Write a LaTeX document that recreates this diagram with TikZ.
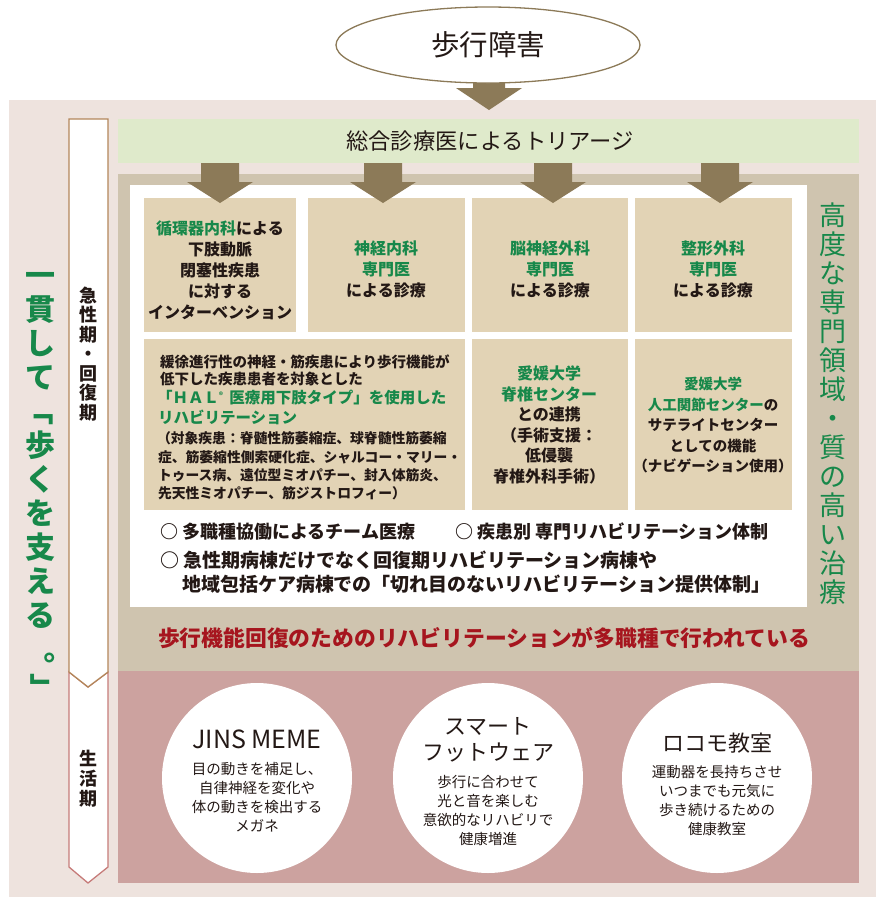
\documentclass[tikz,border=0pt]{standalone}
\usepackage{graphicx}
\usepackage{fontspec}
\setmainfont{Noto Sans CJK JP}
\usetikzlibrary{shapes.geometric}
\definecolor{outerbg}{HTML}{EEE3DE}
\definecolor{bandc}{HTML}{DFEACB}
\definecolor{tanc}{HTML}{CFC4AF}
\definecolor{boxc}{HTML}{E2D3B5}
\definecolor{pinkc}{HTML}{CCA29F}
\definecolor{arrowc}{HTML}{8C7A58}
\definecolor{grn}{HTML}{17884A}
\definecolor{redt}{HTML}{A6151E}
\definecolor{txt}{HTML}{231815}
\definecolor{stripa}{HTML}{B3865A}
\definecolor{stripb}{HTML}{C67B79}
\newcommand\barrow[6]{\fill[arrowc] (#1-#5,#2) -- (#1+#5,#2) -- (#1+#5,#3) -- (#1+#6,#3) -- (#1,#4) -- (#1-#6,#3) -- (#1-#5,#3) -- cycle;}
\newcommand\vrot[1]{\rotatebox[origin=c]{-90}{#1}}
\tikzset{
  boxtxt/.style={font=\bfseries\fontsize{16}{21}\selectfont, align=center},
  boxtxtsm/.style={font=\bfseries\fontsize{14.5}{20.5}\selectfont, align=center},
  haltxt/.style={font=\bfseries\fontsize{14.5}{14.5}\selectfont, anchor=west},
  halsm/.style={font=\bfseries\fontsize{13.8}{13.8}\selectfont, anchor=west},
  halgrn/.style={font=\bfseries\fontsize{15.5}{15.5}\selectfont, anchor=west, text=grn},
  bullettxt/.style={font=\bfseries\fontsize{18}{18}\selectfont, anchor=west},
  bulletbig/.style={font=\bfseries\fontsize{19}{19}\selectfont, anchor=west},
  circtitle/.style={font=\fontsize{22}{26}\selectfont, align=center},
  circbody/.style={font=\fontsize{14.5}{19}\selectfont, align=center},
  circle3/.style={fill=white, circle, minimum size=190},
}
\begin{document}
\begin{tikzpicture}[x=1pt,y=-1pt, every node/.style={inner sep=0pt, outer sep=0pt, text=txt}]
\useasboundingbox (0,0) rectangle (876,898);
\fill[outerbg] (9,100) rectangle (876,897);
% main arrow
\barrow{489}{75}{88}{110}{16}{33}
\node[draw=arrowc, line width=1.3pt, fill=white, ellipse, minimum width=304, minimum height=76] (top) at (488,45) {};
\node[font=\fontsize{28.5}{28.5}\selectfont] (toptxt) at (top.center) {歩行障害};
% band
\fill[bandc] (118,119) rectangle (859,163);
\node[font=\fontsize{22.3}{22.3}\selectfont] (band) at (490,141) {総合診療医によるトリアージ};
% tan area and pink area
\fill[tanc] (118,174) rectangle (859,671);
\fill[pinkc] (118,671) rectangle (859,883);
\fill[white] (130,185) rectangle (807,607);
% boxes
\fill[boxc] (144,198) rectangle (296,332);
\fill[boxc] (308,198) rectangle (465,332);
\fill[boxc] (472,198) rectangle (628,332);
\fill[boxc] (635,198) rectangle (792,332);
\fill[boxc] (144,339) rectangle (465,510);
\fill[boxc] (472,339) rectangle (628,510);
\fill[boxc] (635,339) rectangle (792,510);
% sub arrows
\barrow{220}{163}{182}{203}{19}{33}
\barrow{383}{163}{182}{203}{19}{33}
\barrow{553}{163}{182}{203}{19}{33}
\barrow{720}{163}{182}{203}{19}{33}
% row 1 text
\node[boxtxt] (b1) at (220,270) {{\color{grn}循環器内科}による\\下肢動脈\\閉塞性疾患\\に対する\\インターベンション};
\node[boxtxt] (b2) at (386,269) {{\color{grn}神経内科}\\{\color{grn}専門医}\\による診療};
\node[boxtxt] (b3) at (550,269) {{\color{grn}脳神経外科}\\{\color{grn}専門医}\\による診療};
\node[boxtxt] (b4) at (713,269) {{\color{grn}整形外科}\\{\color{grn}専門医}\\による診療};
% HAL box
\node[haltxt] (h1) at (160,362) {緩徐進行性の神経・筋疾患により歩行機能が};
\node[haltxt] (h2) at (160,379) {低下した疾患患者を対象とした};
\node[halgrn] (h3) at (157,398) {「ＨＡＬ{\fontsize{8}{8}\selectfont\raisebox{5pt}{®}}\, 医療用下肢タイプ」を使用した};
\node[halgrn] (h4) at (158,417) {リハビリテーション};
\node[halsm] (h5) at (157,438) {（対象疾患：脊髄性筋萎縮症、球脊髄性筋萎縮};
\node[halsm] (h6) at (158,457) {症、筋萎縮性側索硬化症、シャルコー・マリー・};
\node[halsm] (h7) at (158,475) {トゥース病、遠位型ミオパチー、封入体筋炎、};
\node[halsm] (h8) at (158,493) {先天性ミオパチー、筋ジストロフィー）};
% box5, box6
\node[boxtxt, font=\bfseries\fontsize{16}{20.5}\selectfont] (b5) at (549,425) {{\color{grn}愛媛大学}\\{\color{grn}脊椎センター}\\との連携\\（手術支援：\\低侵襲\\脊椎外科手術）};
\node[boxtxtsm] (b6) at (713,425) {{\color{grn}愛媛大学}\\{\color{grn}人工関節センター}の\\サテライトセンター\\としての機能\\（ナビゲーション使用）};
% bullets
\node[bullettxt] (p1) at (160,532) {○ 多職種協働によるチーム医療};
\node[bullettxt] (p2) at (455,532) {○ 疾患別 専門リハビリテーション体制};
\node[bulletbig] (p3) at (160,560) {○ 急性期病棟だけでなく回復期リハビリテーション病棟や};
\node[bulletbig] (p4) at (182,584) {地域包括ケア病棟での「切れ目のないリハビリテーション提供体制」};
% red line
\node[font=\bfseries\fontsize{21.8}{21.8}\selectfont, text=redt] (red) at (484,638) {歩行機能回復のためのリハビリテーションが多職種で行われている};
% right vertical text
\node[font=\fontsize{27}{29}\selectfont, text=grn, align=center] (right) at (833,404) {高\\度\\な\\専\\門\\領\\域\\・\\質\\の\\高\\い\\治\\療};
% left strips
\filldraw[fill=white, draw=stripb, line width=1.3pt] (69,672) -- (88,687) -- (108,672) -- (108,867) -- (88,883) -- (69,867) -- cycle;
\filldraw[fill=white, draw=stripa, line width=1.3pt] (69,119) -- (108,119) -- (108,672) -- (88,687) -- (69,672) -- cycle;
\node[font=\bfseries\fontsize{18}{19.5}\selectfont, align=center] (acute) at (88,354) {急\\性\\期\\・\\回\\復\\期};
\node[font=\bfseries\fontsize{18}{20}\selectfont, align=center] (life) at (88,779) {生\\活\\期};
\node[font=\bfseries\fontsize{30}{34}\selectfont, text=grn, align=center] (left) at (40,488) {一\\貫\\し\\て\\\vrot{「}\\歩\\く\\を\\支\\え\\る\\\rotatebox[origin=c]{180}{。}\\\vrot{」}};
% circles
\node[circle3] (c1) at (257,778) {};
\node[circle3] (c2) at (488,778) {};
\node[circle3] (c3) at (717,778) {};
\node[circtitle, font=\fontsize{25}{26}\selectfont] (c1t) at (257,739) {JINS MEME};
\node[circbody] (c1b) at (257,797) {目の動きを補足し、\\自律神経を変化や\\体の動きを検出する\\メガネ};
\node[circtitle] (c2t) at (488,740) {スマート\\フットウェア};
\node[circbody] (c2b) at (488,811) {歩行に合わせて\\光と音を楽しむ\\意欲的なリハビリで\\健康増進};
\node[circtitle] (c3t) at (717,743) {ロコモ教室};
\node[circbody] (c3b) at (717,801) {運動器を長持ちさせ\\いつまでも元気に\\歩き続けるための\\健康教室};
\end{tikzpicture}
\end{document}
